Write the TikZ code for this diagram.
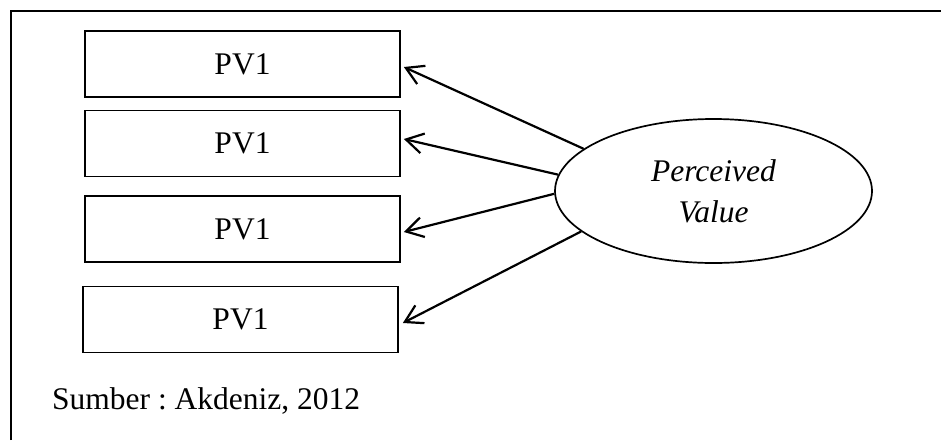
\documentclass[tikz,border=0pt]{standalone}
\usepackage{fontspec}
\setmainfont{Liberation Serif}
\usetikzlibrary{arrows.meta,shapes.geometric}
\frenchspacing
\begin{document}
\begin{tikzpicture}[x=1pt,y=-1pt,
  every node/.style={font=\fontsize{31.5}{41}\selectfont},
  pvbox/.style={draw,line width=1.7pt,minimum width=315pt,minimum height=66pt,inner sep=0pt},
  construct/.style={draw,ellipse,line width=1.7pt,minimum width=317pt,minimum height=144pt,inner sep=0pt,align=center,font=\fontsize{31.5}{41}\selectfont\itshape},
  loading/.style={line width=2.2pt,-{Straight Barb[length=17pt,width=20pt,line width=2.2pt]}}]
  \useasboundingbox (0,0) rectangle (941,440);
  % frame (top and left edges)
  \draw[line width=2.2pt] (11,440) -- (11,11) -- (941,11);
  % indicators
  \node[pvbox] (b1) at (242.5,64) {PV1};
  \node[pvbox] (b2) at (242.5,143.5) {PV1};
  \node[pvbox] (b3) at (242.5,229) {PV1};
  \node[pvbox] (b4) at (240.5,319.5) {PV1};
  % latent construct
  \node[construct] (pv) at (713.5,191) {Perceived\\Value};
  % loadings
  \draw[loading] (pv.162.3) -- ([xshift=3pt,yshift=-3pt]b1.east);
  \draw[loading] (pv.174.9) -- ([xshift=3pt,yshift=4.5pt]b2.east);
  \draw[loading] (pv.181.5) -- ([xshift=3pt,yshift=-3pt]b3.east);
  \draw[loading] (pv.197.2) -- ([xshift=4pt,yshift=-3.5pt]b4.east);
  % source note
  \node[anchor=base west,inner sep=0pt] (src) at (52,409) {Sumber : Akdeniz, 2012};
\end{tikzpicture}
\end{document}
